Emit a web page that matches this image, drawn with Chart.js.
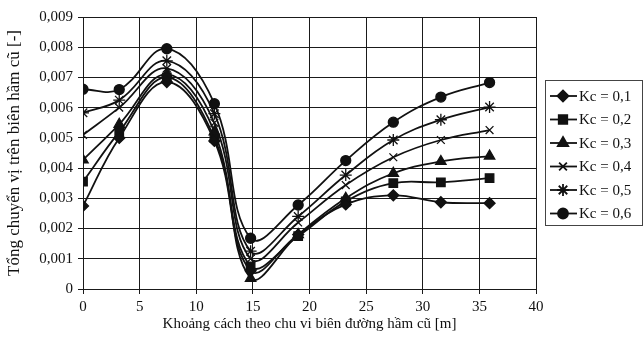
<!DOCTYPE html>
<html>
<head>
<meta charset="utf-8">
<script src="https://cdn.jsdelivr.net/npm/chart.js@4/dist/chart.umd.min.js"></script>
<style>
  html, body { margin: 0; padding: 0; background: #fff; }
  #wrap { width: 644px; height: 353px; position: relative; }
</style>
</head>
<body>
<div id="wrap"><canvas id="chart"></canvas></div>
<script>
  "use strict";

  // distance along the old tunnel boundary [m]
  const distances = [0, 3.2, 7.4, 11.6, 14.8, 19.0, 23.2, 27.4, 31.6, 35.9];

  const seriesLabels = ["Kc = 0,1", "Kc = 0,2", "Kc = 0,3", "Kc = 0,4", "Kc = 0,5", "Kc = 0,6"];

  const kc01 = [0.00275, 0.0050, 0.00685, 0.0049, 0.0006, 0.0018, 0.0028, 0.0031, 0.00287, 0.00284];
  const kc02 = [0.00355, 0.0052, 0.0070, 0.0050, 0.00075, 0.00175, 0.0029, 0.0035, 0.00353, 0.00367];
  const kc03 = [0.00427, 0.00545, 0.0071, 0.0052, 0.00035, 0.0018, 0.0030, 0.00383, 0.00422, 0.0044];
  const kc04 = [0.0051, 0.0060, 0.0073, 0.0055, 0.0010, 0.0022, 0.00344, 0.00436, 0.00493, 0.00526];
  const kc05 = [0.00583, 0.00625, 0.00755, 0.0058, 0.00125, 0.0024, 0.00377, 0.00493, 0.0056, 0.00602];
  const kc06 = [0.00661, 0.0066, 0.00795, 0.00613, 0.00168, 0.00278, 0.00425, 0.00552, 0.00635, 0.00683];

  const seriesValues = [kc01, kc02, kc03, kc04, kc05, kc06];
  const markerStyles = ["rectRot", "rect", "triangle", "crossRot", "star", "circle"];
  const markerSizes = [5.5, 6, 6, 5.5, 6, 5];

  const yTicks = [0, 0.001, 0.002, 0.003, 0.004, 0.005, 0.006, 0.007, 0.008, 0.009];
  const xTicks = [0, 5, 10, 15, 20, 25, 30, 35, 40];

  const FONT = "'Liberation Serif', 'DejaVu Serif', serif";
  const INK = "#111";
  const GRID = "#1a1a1a";

  const datasets = seriesValues.map((vals, i) => ({
    label: seriesLabels[i],
    data: vals.map((v, j) => ({ x: distances[j], y: v })),
    borderColor: INK,
    backgroundColor: INK,
    borderWidth: 1.8,
    tension: 0.4,
    pointStyle: markerStyles[i],
    pointRadius: markerSizes[i],
    pointBorderColor: INK,
    pointBackgroundColor: INK,
    pointBorderWidth: 1.3,
    fill: false,
  }));

  // Legend with line + marker samples, boxed at the right
  const lineLegend = {
    id: "lineLegend",
    afterDraw(chart) {
      const ctx = chart.ctx;
      const left = 545, top = 80, width = 97, height = 145;
      ctx.save();
      ctx.strokeStyle = "#444";
      ctx.lineWidth = 1;
      ctx.strokeRect(left + 0.5, top + 0.5, width, height);
      ctx.font = "15px " + FONT;
      ctx.textBaseline = "middle";
      chart.data.datasets.forEach((ds, i) => {
        const y = top + 16 + i * 23.5;
        ctx.strokeStyle = INK;
        ctx.lineWidth = 1.8;
        ctx.beginPath();
        ctx.moveTo(left + 5, y);
        ctx.lineTo(left + 32, y);
        ctx.stroke();
        ctx.fillStyle = INK;
        Chart.helpers.drawPoint(ctx, {
          pointStyle: ds.pointStyle,
          radius: ds.pointRadius,
          rotation: 0,
          borderWidth: 1.3,
        }, left + 18, y);
        ctx.fillText(ds.label, left + 34, y + 1);
      });
      ctx.restore();
    },
  };

  new Chart(document.getElementById("chart").getContext("2d"), {
    type: "line",
    data: { datasets },
    plugins: [lineLegend],
    options: {
      responsive: true,
      maintainAspectRatio: false,
      animation: false,
      layout: { padding: { top: 17, right: 108, left: 0, bottom: 20 } },
      plugins: { legend: { display: false }, tooltip: { enabled: false } },
      scales: {
        x: {
          type: "linear",
          min: 0,
          max: 40,
          afterBuildTicks: (s) => { s.ticks = xTicks.map((v) => ({ value: v })); },
          afterFit: (s) => { s.height = 44; },
          ticks: { color: INK, font: { family: FONT, size: 15 }, padding: 4, maxRotation: 0 },
          grid: { color: GRID, lineWidth: 1, tickLength: 5, tickColor: GRID },
          border: { color: GRID, width: 1 },
          title: {
            display: true,
            text: "Khoảng cách theo chu vi biên đường hầm cũ [m]",
            color: INK,
            font: { family: FONT, size: 15 },
            padding: { top: 0, bottom: 0 },
          },
        },
        y: {
          min: 0,
          max: 0.009,
          afterBuildTicks: (s) => { s.ticks = yTicks.map((v) => ({ value: v })); },
          afterFit: (s) => { s.width = 83; },
          ticks: {
            color: INK,
            font: { family: FONT, size: 15 },
            padding: 5,
            callback: (v) => (v === 0 ? "0" : v.toFixed(3).replace(".", ",")),
          },
          grid: { color: GRID, lineWidth: 1, tickLength: 5, tickColor: GRID },
          border: { color: GRID, width: 1 },
          title: {
            display: true,
            text: "Tổng chuyển vị trên biên hầm cũ [-]",
            color: INK,
            font: { family: FONT, size: 17 },
            padding: { bottom: 0, top: 4 },
          },
        },
      },
    },
  });
</script>
</body>
</html>
